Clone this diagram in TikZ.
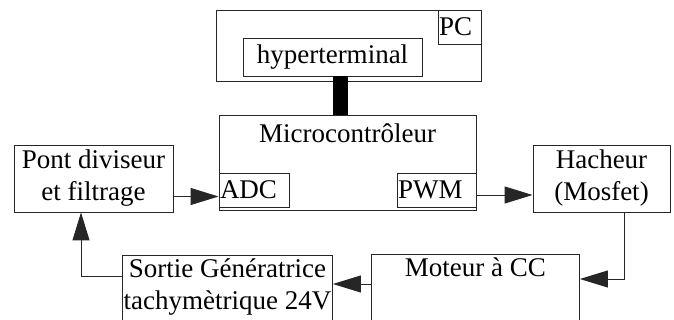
\documentclass[tikz,border=0pt]{standalone}
\usepackage{fontspec}
\setmainfont{Liberation Serif}
\usetikzlibrary{arrows.meta,positioning}
\begin{document}
\begin{tikzpicture}[x=1pt, y=-1pt, font=\fontsize{27}{32}\selectfont,
		box/.style = {draw=black!85, line width=0.9pt, inner sep=0pt},
		txt/.style = {inner sep=0pt, align=center},
		arr/.style = {draw=black!85, line width=0.9pt, -{Triangle[length=28pt, width=17pt]}}]
		\useasboundingbox (0,0) rectangle (674,320);
		\clip (0,0) rectangle (674,320);
		%% NODES
		% PC
		\node[box, minimum width=265pt, minimum height=71pt] (pc) at (348.5,45.5) {};
		\node[box, anchor=north east, minimum width=43pt, minimum height=34pt, text width=41pt, align=left] (pclbl) at (pc.north east) {PC};
		\node[box, minimum width=179pt, minimum height=38pt] (hyper) at (332.5,57) {hyperterminal};
		% Microcontroller
		\node[box, minimum width=257pt, minimum height=95pt] (micro) at (347.5,162.5) {};
		\node[txt] (microlbl) at (347.5,133) {Microcontrôleur};
		\node[box, minimum width=70pt, minimum height=34pt, text width=68pt, align=left] (adc) at (254,190) {ADC};
		\node[box, minimum width=79pt, minimum height=34pt, text width=77pt, align=left] (pwm) at (436.5,190) {PWM};
		% Left block
		\node[box, minimum width=159pt, minimum height=67pt, align=center] (pont) at (93.5,178.5) {Pont diviseur\\et filtrage};
		% Right block
		\node[box, minimum width=137pt, minimum height=67pt, align=center] (hach) at (601.5,178.5) {Hacheur\\(Mosfet)};
		% Bottom blocks (cut by the frame)
		\node[box, anchor=north west, minimum width=208pt, minimum height=90pt] (moteur) at (371,254) {};
		\node[txt, anchor=north] (moteurlbl) at ([yshift=-4pt]moteur.north) {Moteur à CC};
		\node[box, anchor=north west, minimum width=210pt, minimum height=90pt] (sortie) at (122,255) {};
		\node[txt, anchor=north] (sortielbl) at ([yshift=-4pt]sortie.north) {Sortie Génératrice\\tachymètrique 24V};
		%% LINKS
		% PC to microcontroller
		\draw[line width=15pt] ([xshift=8pt]hyper.south) -- ([xshift=8pt]hyper.south |- micro.north);
		% Main loop
		\draw[arr] ([yshift=-18pt]pont.east) -- ([yshift=-18pt]pont.east -| adc.west);
		\draw[arr] ([yshift=-16.5pt]hach.west -| pwm.east) -- ([yshift=-16.5pt]hach.west);
		\draw[arr] ([xshift=22.5pt]hach.south) |- ([yshift=-25pt]moteur.north east);
		\draw[arr] ([yshift=-30pt]moteur.north west) -- ([yshift=-30pt]moteur.north west -| sortie.east);
		\draw[arr] ([yshift=-21pt]sortie.north west) -| ([xshift=-12.5pt]pont.south);
	\end{tikzpicture}
\end{document}
